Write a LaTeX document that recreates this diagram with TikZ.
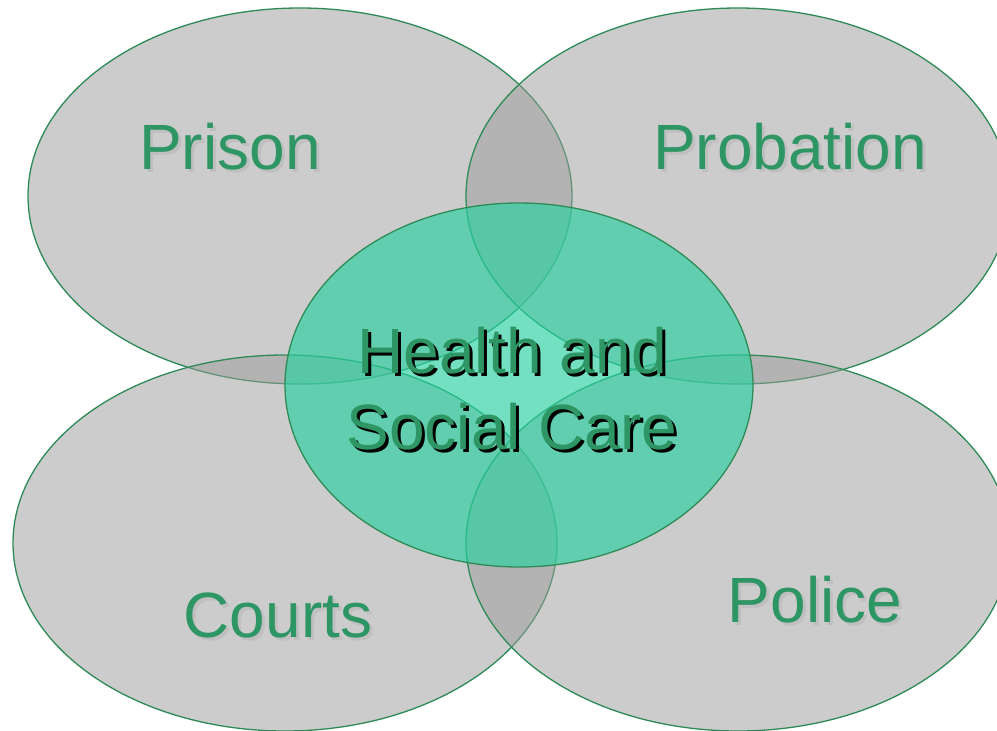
\documentclass[tikz,border=0pt]{standalone}
\usepackage{fontspec}
\setmainfont{Liberation Sans}
\definecolor{edgegreen}{RGB}{46,139,87}
\definecolor{txtgreen}{RGB}{46,150,100}
\definecolor{centerfill}{RGB}{40,210,160}
\definecolor{outerfill}{RGB}{155,155,155}
\newcommand{\shadowed}[3]{\makebox[0pt][l]{\hspace{3pt}\raisebox{-3pt}{\color{#1}#3}}{\color{#2}#3}}
\tikzset{
  outer/.style={draw=edgegreen, line width=1.3pt, fill=outerfill, fill opacity=0.5},
  inner/.style={draw=edgegreen, line width=1.3pt, fill=centerfill, fill opacity=0.65},
  lbl/.style={font=\fontsize{64}{76}\selectfont},
  ctr/.style={font=\fontsize{64}{76}\selectfont}
}
\begin{document}
\begin{tikzpicture}[x=1pt,y=-1pt]
\useasboundingbox (0,0) rectangle (997,731);
\clip (0,0) rectangle (997,731);
\fill[white] (0,0) rectangle (997,731);
\path[outer] (300,196) ellipse [x radius=272, y radius=188];
\path[outer] (738,196) ellipse [x radius=272, y radius=188];
\path[outer] (285,543) ellipse [x radius=272, y radius=188];
\path[outer] (738,543) ellipse [x radius=272, y radius=188];
\path[inner] (519,385) ellipse [x radius=234, y radius=182];
% labels
\node[lbl] (prison) at (230,148) {\shadowed{black!25}{txtgreen}{Prison}};
\node[lbl] (probation) at (790,148) {\shadowed{black!25}{txtgreen}{Probation}};
\node[lbl] (courts) at (278,617) {\shadowed{black!25}{txtgreen}{Courts}};
\node[lbl] (police) at (815,601) {\shadowed{black!25}{txtgreen}{Police}};
\node[ctr, align=center] (hsc) at (512,390) {\shadowed{black}{txtgreen}{Health and}\\\shadowed{black}{txtgreen}{Social Care}};
\end{tikzpicture}
\end{document}
